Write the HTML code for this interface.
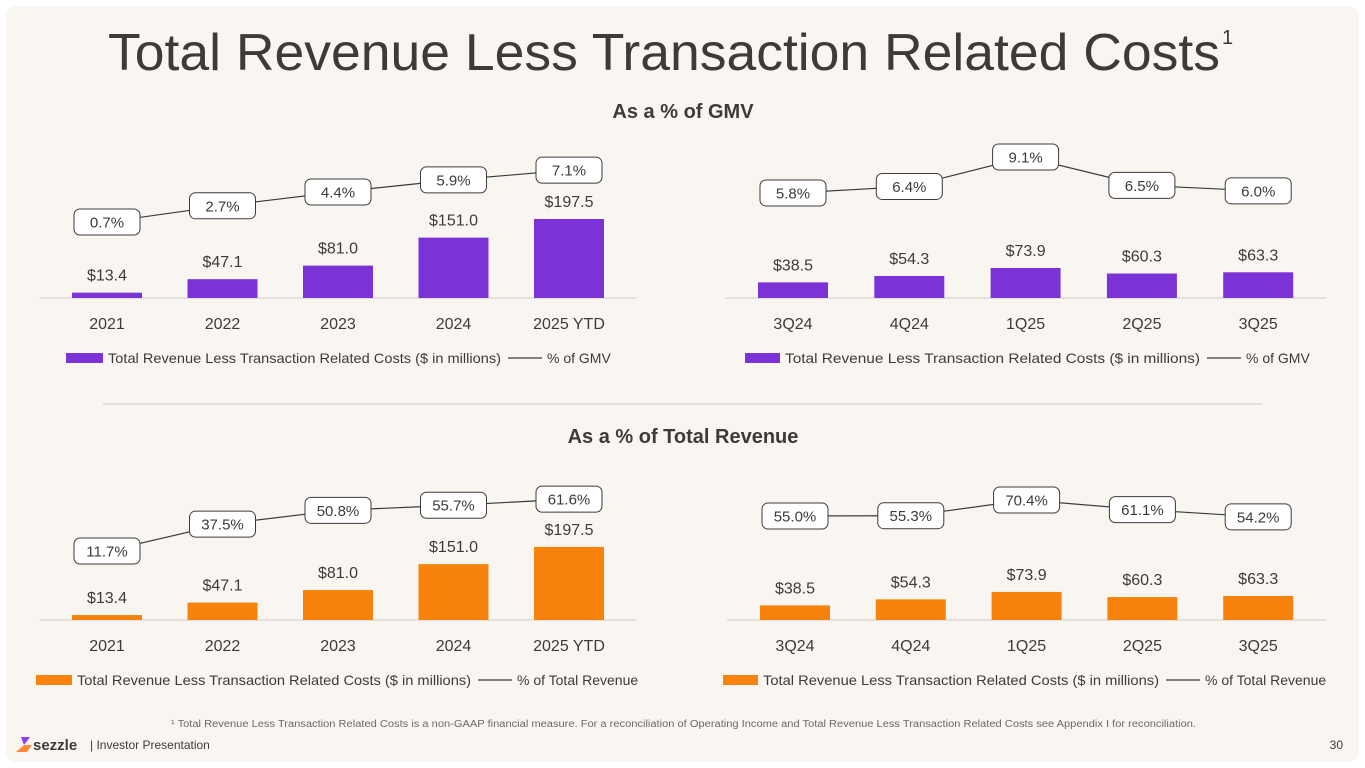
<!DOCTYPE html>
<html><head><meta charset="utf-8"><style>
html,body{margin:0;padding:0;background:#fff;}
body{width:1365px;height:768px;overflow:hidden;position:relative;font-family:"Liberation Sans",sans-serif;}
#card{position:absolute;left:6px;top:6px;width:1353px;height:756px;background:#f9f6f2;border-radius:10px;}
svg{position:absolute;left:0;top:0;}
</style></head><body>
<div id="card"></div>
<svg id="s" width="1365" height="768">
<text x="108" y="70" font-size="52" fill="#3d3a3a" textLength="1112" lengthAdjust="spacingAndGlyphs">Total Revenue Less Transaction Related Costs</text>
<text x="1222" y="44" font-size="20" fill="#3d3a3a">1</text>
<text x="683" y="118" font-size="20" font-weight="bold" text-anchor="middle" fill="#3d3a3a">As a % of GMV</text>
<text x="683" y="443" font-size="20" font-weight="bold" text-anchor="middle" fill="#3d3a3a">As a % of Total Revenue</text>
<line x1="103" y1="404" x2="1262" y2="404" stroke="#dcd8d3" stroke-width="1.5"/>
<text x="171" y="727" font-size="10" fill="#6b6868" textLength="1025" lengthAdjust="spacingAndGlyphs">¹ Total Revenue Less Transaction Related Costs is a non-GAAP financial measure. For a reconciliation of Operating Income and Total Revenue Less Transaction Related Costs see Appendix I for reconciliation.</text>
<g><path d="M21 737 L30 737 L24 745 Z" fill="#8a3ffc"/><path d="M24 745 L32 745 L27 752 L16 752 Z" fill="#ff8a3d"/></g>
<text x="33" y="750" font-size="15" font-weight="bold" fill="#3d3a3a">sezzle</text>
<text x="90" y="749" font-size="12" fill="#3d3a3a">|  Investor Presentation</text>
<text x="1343" y="749" font-size="12" text-anchor="end" fill="#3d3a3a">30</text>
</svg>
<script>
const yearCats=["2021","2022","2023","2024","2025 YTD"];
const quarterCats=["3Q24","4Q24","1Q25","2Q25","3Q25"];
const yearValues=[13.4,47.1,81.0,151.0,197.5];
const quarterValues=[38.5,54.3,73.9,60.3,63.3];
const yearGmvPct=[0.7,2.7,4.4,5.9,7.1];
const quarterGmvPct=[5.8,6.4,9.1,6.5,6.0];
const yearRevPct=[11.7,37.5,50.8,55.7,61.6];
const quarterRevPct=[55.0,55.3,70.4,61.1,54.2];

const svg=document.getElementById('s');
const NS='http://www.w3.org/2000/svg';
function mk(tag,attrs,parent){const e=document.createElementNS(NS,tag);for(const k in attrs)e.setAttribute(k,attrs[k]);(parent||svg).appendChild(e);return e;}

function chart(o){
  const g=mk('g',{});
  
  
  const xs=i=>o.x0+i*o.dx;
  const yBar=v=>o.base-v*o.vk;
  const yPct=p=>o.p0y-(p-o.p0)*o.pk;
  const ax=mk('line',{x1:o.x0-o.dx/2-10,x2:o.x0+4*o.dx+o.dx/2+10,y1:o.base,y2:o.base,stroke:'#dedad5','stroke-width':1.5},g);
  
  
  o.cats.forEach((c,i)=>{
    const r=mk('rect',{x:xs(i)-35,y:yBar(o.vals[i]),width:70,height:o.vals[i]*o.vk,fill:o.color},g);
    
    
    const vt=mk('text',{x:xs(i),y:yBar(o.vals[i])-12,'font-size':16,'text-anchor':'middle',fill:'#3d3a3a'},g);
    vt.textContent='$'+o.vals[i].toFixed(1);
    
    
    const ct=mk('text',{x:xs(i),y:o.base+31,'font-size':16,'text-anchor':'middle',fill:'#3d3a3a'},g);
    ct.textContent=c;
    
    
  });
  const pts=o.pct.map((p,i)=>xs(i)+','+yPct(p)).join(' ');
  const pl=mk('polyline',{points:pts,fill:'none',stroke:'#3d3a3a','stroke-width':1.2},g);
  
  
  o.pct.forEach((p,i)=>{
    const w=66,h=26;
    const b=mk('rect',{x:xs(i)-w/2,y:yPct(p)-h/2,width:w,height:h,rx:6,fill:'#fff',stroke:'#3d3a3a','stroke-width':1},g);
    
    
    const t=mk('text',{x:xs(i),y:yPct(p)+5.5,'font-size':15,'text-anchor':'middle',fill:'#3d3a3a'},g);
    t.textContent=p.toFixed(1)+'%';
    
    
  });
  const L=o.leg, ly=o.base+60;
  const sw=mk('rect',{x:L[0],y:ly-5,width:L[1]-L[0],height:10,fill:o.color},g);
  
  
  const lt=mk('text',{x:L[1]+5,y:ly+5,'font-size':14,fill:'#3d3a3a',textLength:L[2]-L[1]-12,lengthAdjust:'spacingAndGlyphs'},g);
  lt.textContent='Total Revenue Less Transaction Related Costs ($ in millions)';
  
  
  const ll=mk('line',{x1:L[2],x2:L[2]+34,y1:ly,y2:ly,stroke:'#3d3a3a','stroke-width':1.2},g);
  
  
  const l2=mk('text',{x:L[2]+39,y:ly+5,'font-size':14,fill:'#3d3a3a'},g);
  l2.textContent=o.lineLabel;
  
  
}
const purple='#7c33d6', orange='#f7830c';
chart({name:'annual-gmv-chart',cats:yearCats,vals:yearValues,pct:yearGmvPct,x0:107,dx:115.5,base:298,vk:0.4,p0:0.7,p0y:222,pk:8.1,color:purple,leg:[66,103,508],lineLabel:'% of GMV'});
chart({name:'quarterly-gmv-chart',cats:quarterCats,vals:quarterValues,pct:quarterGmvPct,x0:793,dx:116.3,base:298,vk:0.406,p0:5.8,p0y:193,pk:10.9,color:purple,leg:[745,780,1207],lineLabel:'% of GMV'});
chart({name:'annual-revenue-chart',cats:yearCats,vals:yearValues,pct:yearRevPct,x0:107,dx:115.5,base:620,vk:0.37,p0:11.7,p0y:551,pk:1.04,color:orange,leg:[36,72,478],lineLabel:'% of Total Revenue'});
chart({name:'quarterly-revenue-chart',cats:quarterCats,vals:quarterValues,pct:quarterRevPct,x0:795,dx:115.8,base:620,vk:0.38,p0:55.0,p0y:516,pk:1.04,color:orange,leg:[723,758,1166],lineLabel:'% of Total Revenue'});
</script>
</body></html>
